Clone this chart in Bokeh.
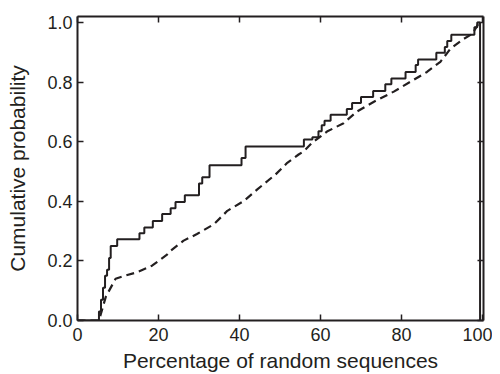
from bokeh.plotting import figure
from bokeh.models import Range1d, LinearAxis, FixedTicker, PrintfTickFormatter
from bokeh.embed import file_html
from bokeh.resources import INLINE

# Solid curve: jump positions (x) and value after the jump (y)
solid_x = [0, 5.3, 5.8, 6.3, 6.8, 7.3, 7.8, 8.2, 9.8, 15.3, 16.5, 18.6, 20.9, 23.0, 24.2,
           26.5, 30.0, 30.8, 32.6, 40.5, 41.5, 55.9, 58.0, 59.5, 60.3, 61.0, 62.5, 66.5,
           67.8, 70.0, 73.0, 76.0, 77.5, 81.0, 83.5, 84.1, 88.6, 90.7, 91.3, 92.3, 98.0,
           98.7, 99.4]
solid_y = [0, 0.03, 0.07, 0.11, 0.15, 0.17, 0.21, 0.25, 0.273, 0.293, 0.312, 0.334, 0.357,
           0.377, 0.398, 0.42, 0.46, 0.481, 0.521, 0.545, 0.584, 0.607, 0.615, 0.635, 0.655,
           0.67, 0.69, 0.71, 0.73, 0.75, 0.77, 0.793, 0.812, 0.834, 0.857, 0.876, 0.898,
           0.918, 0.938, 0.959, 0.984, 1.0, 0.0]

# Dashed curve: points
dashed_x = [0, 5.3, 7.0, 9.4, 11.9, 14.7, 18.4, 22.1, 23.0, 26.2, 29.5, 33.7, 37.0, 41.1,
            44.4, 48.9, 51.8, 54.6, 55.9, 57.9, 61.6, 65.7, 69.0, 73.2, 78.1, 82.2, 86.3,
            89.6, 92.1, 95.4, 97.5, 99.1, 99.4]
dashed_y = [0, 0, 0.08, 0.14, 0.151, 0.162, 0.184, 0.221, 0.234, 0.268, 0.29, 0.323, 0.368,
            0.401, 0.44, 0.49, 0.529, 0.557, 0.568, 0.596, 0.634, 0.662, 0.701, 0.734, 0.768,
            0.801, 0.834, 0.868, 0.912, 0.945, 0.962, 0.998, 1.0]

x_ticks = [0, 20, 40, 60, 80, 100]
y_ticks = [0.0, 0.2, 0.4, 0.6, 0.8, 1.0]

FONT = "Liberation Sans"
INK = "#231f20"

p = figure(width=492, height=374, output_backend="svg", toolbar_location=None,
           x_range=Range1d(0, 100.25), y_range=Range1d(0, 1.02),
           min_border_left=77, min_border_right=9, min_border_top=16, min_border_bottom=52,
           x_axis_label="Percentage of random sequences", y_axis_label="Cumulative probability")
p.grid.visible = False
p.outline_line_color = None
p.background_fill_color = "white"

p.step(solid_x, solid_y, mode="after", line_color=INK, line_width=2)
p.line(dashed_x, dashed_y, line_color=INK, line_width=2.2, line_dash="8 5")

def style(ax, labels=True):
    ax.axis_line_color = INK
    ax.axis_line_width = 2
    ax.major_tick_line_color = INK
    ax.major_tick_line_width = 1.5
    ax.major_tick_in = 6
    ax.major_tick_out = 0
    ax.minor_tick_line_color = None
    ax.major_label_text_font = FONT
    ax.major_label_text_color = INK
    ax.axis_label_text_font = FONT
    ax.axis_label_text_color = INK
    ax.axis_label_text_font_style = "normal"
    if labels:
        ax.major_label_text_font_size = "18px"
        ax.axis_label_text_font_size = "21px"
        ax.major_label_standoff = 7
        ax.axis_label_standoff = 5
    else:
        ax.major_label_text_font_size = "1px"
        ax.major_label_text_color = None
        ax.major_label_standoff = 0

xa = p.xaxis[0]
xa.ticker = FixedTicker(ticks=x_ticks)
style(xa)
ya = p.yaxis[0]
ya.ticker = FixedTicker(ticks=y_ticks)
ya.formatter = PrintfTickFormatter(format="%.1f")
style(ya)
ya.major_label_standoff = 5
ya.axis_label_standoff = 15

top = LinearAxis(ticker=FixedTicker(ticks=x_ticks))
style(top, labels=False)
p.add_layout(top, "above")
right = LinearAxis(ticker=FixedTicker(ticks=y_ticks))
style(right, labels=False)
p.add_layout(right, "right")

open("out.html", "w").write(file_html(p, INLINE))
